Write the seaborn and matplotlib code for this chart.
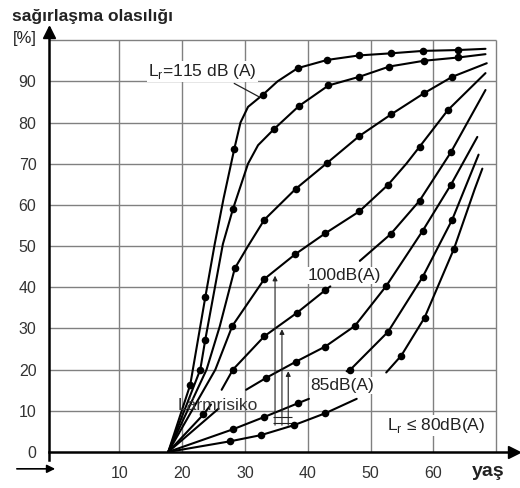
import numpy as np
import pandas as pd
import matplotlib
matplotlib.use('Agg')
import matplotlib.pyplot as plt
import seaborn as sns

sns.set_theme(style='white')
plt.rcParams['font.family'] = ['Liberation Sans', 'DejaVu Sans']
plt.rcParams['mathtext.fontset'] = 'custom'
plt.rcParams['mathtext.rm'] = 'Liberation Sans'

NaN = np.nan

# ── Curves: age, probability [%], dot (1 = marker) ──
# NaN breaks a curve where a label sits on it
c1_age = [17.8, 21.3, 23.7, 25.2, 26.6, 28.3, 29.3, 30.5, 32.9, 35.2, 38.4, 43.1, 48.2, 53.2, 58.4, 63.9, 68.3]
c1_val = [0, 16.3, 37.6, 50.5, 61.5, 73.5, 80, 83.8, 86.8, 90, 93.2, 95.2, 96.3, 96.8, 97.4, 97.6, 97.9]
c1_dot = [0, 1, 1, 0, 0, 1, 0, 0, 1, 0, 1, 1, 1, 1, 1, 1, 0]

c2_age = [17.8, 22.9, 23.7, 26.5, 28.1, 30.5, 32.1, 34.7, 38.6, 43.3, 48.2, 53.0, 58.5, 64.0, 68.3]
c2_val = [0, 20, 27.3, 50.5, 59, 70, 74.5, 78.5, 84, 89, 91.1, 93.6, 95, 95.8, 96.6]
c2_dot = [0, 1, 1, 0, 1, 0, 0, 1, 1, 1, 1, 1, 1, 1, 0]

c3_age = [17.8, 23.9, 26.0, 28.4, 30.5, 33.1, 35.5, 38.1, 43.1, 48.2, 53.3, 58.5, 63.0, 68.5]
c3_val = [0, 20, 30.5, 44.6, 50, 56.4, 60, 63.9, 70.2, 76.7, 82, 87.1, 91.1, 94.4]
c3_dot = [0, 0, 0, 1, 0, 1, 0, 1, 1, 1, 1, 1, 1, 0]

c4_age = [17.8, 25.3, 28.0, 33.1, 38.0, 42.8, 48.2, 52.8, 55.7, 57.8, 62.3, 68.3]
c4_val = [0, 20, 30.6, 42, 48, 53.1, 58.4, 64.9, 70, 74.1, 83, 92]
c4_dot = [0, 0, 1, 1, 1, 1, 1, 1, 0, 1, 1, 0]

c5_age = [17.8, 23.4, 24.6, NaN, 26.3, 28.1, 33.1, 38.3, 42.8, 43.6, NaN, 48.3, 53.2, 57.8, 62.8, 68.3]
c5_val = [0, 9.1, 11.5, NaN, 15.1, 20, 28.1, 33.8, 39.3, 40.2, NaN, 46.4, 52.9, 61, 72.8, 87.9]
c5_dot = [0, 1, 0, 0, 0, 1, 1, 1, 1, 0, 0, 0, 1, 1, 1, 0]

c6_age = [17.8, 25.8, NaN, 30.2, 33.4, 38.1, 42.8, 47.5, 52.5, 58.3, 62.8, 67.0]
c6_val = [0, 10.5, NaN, 15.1, 18, 21.9, 25.6, 30.6, 40.3, 53.7, 64.9, 76.5]
c6_dot = [0, 0, 0, 0, 1, 1, 1, 1, 1, 1, 1, 0]

c7_age = [17.8, 28.1, 33.1, 38.4, 40.2, NaN, 46.2, 46.8, 52.8, 58.3, 63.0, 67.2]
c7_val = [0, 5.5, 8.5, 11.8, 12.9, NaN, 19.6, 20, 29.2, 42.5, 56.4, 72.2]
c7_dot = [0, 1, 1, 1, 0, 0, 0, 1, 1, 1, 1, 0]

c8_age = [17.8, 27.7, 32.6, 37.8, 42.8, 47.8, NaN, 52.5, 54.9, 58.6, 63.3, 66.6, 67.8]
c8_val = [0, 2.6, 4.1, 6.5, 9.4, 12.9, NaN, 19.3, 23.4, 32.6, 49.4, 63.9, 68.8]
c8_dot = [0, 1, 1, 1, 1, 0, 0, 0, 1, 1, 1, 0, 0]

# Lärmrisiko arrows
arrow_age = [34.8, 35.9, 36.9]
arrow_top = [42.8, 29.8, 19.6]
arrow_base = 6.5

# leader line of the 115 dB label
leader_age = [28.3, 32.3]
leader_val = [89.5, 86.2]

x_ticks = [10, 20, 30, 40, 50, 60, 70]
y_ticks = [0, 10, 20, 30, 40, 50, 60, 70, 80, 90, 100]

# ── Long table ───────────────────────────────────────────────
curves = [(c1_age, c1_val, c1_dot), (c2_age, c2_val, c2_dot), (c3_age, c3_val, c3_dot),
          (c4_age, c4_val, c4_dot), (c5_age, c5_val, c5_dot), (c6_age, c6_val, c6_dot),
          (c7_age, c7_val, c7_dot), (c8_age, c8_val, c8_dot)]
rows = []
for i, (ages, vals, dots) in enumerate(curves):
    seg = 0
    for a, v, d in zip(ages, vals, dots):
        if np.isnan(v):
            seg += 1
            continue
        rows.append({'key': f'{i}-{seg}', 'age': a, 'val': v, 'dot': d})
df = pd.DataFrame(rows)

# ── Figure ───────────────────────────────────────────────────
fig = plt.figure(figsize=(5.2, 4.88), dpi=100)
ax = fig.add_axes([0.094, 0.057, 0.894, 0.886])
ax.set_xlim(-1.2, 72.8)
ax.set_ylim(-2, 103)

grid_c = '#808080'
ax.hlines(y_ticks[1:], -1.2, 70, color=grid_c, lw=1.0, zorder=0)
ax.vlines(x_ticks, 0, 100, color=grid_c, lw=1.0, zorder=0)

sns.lineplot(data=df, x='age', y='val', units='key', estimator=None, sort=False,
             color='black', linewidth=1.5, legend=False, ax=ax, zorder=2)
sns.scatterplot(data=df[df['dot'] == 1], x='age', y='val', color='black', s=30,
                linewidth=0, legend=False, ax=ax, zorder=3)

for a, t in zip(arrow_age, arrow_top):
    ax.annotate('', xy=(a, t), xytext=(a, arrow_base),
                arrowprops=dict(arrowstyle='-|>', color='#222', lw=0.8, mutation_scale=7,
                                shrinkA=0, shrinkB=0))
ax.hlines([7.0, 8.4], arrow_age[0] - 0.3, arrow_age[-1] + 0.6, color='#222', lw=0.8)
ax.plot(leader_age, leader_val, color='#222', lw=0.9)

# ── Labels on the chart ─────────────────────────────────────
txt = '#222'
box = dict(facecolor='white', edgecolor='none', pad=0.6)
ax.text(14.6, 92.4, r'L$_\mathregular{r}$=115 dB (A)', fontsize=12.5, color=txt,
        ha='left', va='center', bbox=box, zorder=4)
ax.text(45.8, 42.9, '100dB(A)', fontsize=12.5, color=txt, ha='center', va='center',
        bbox=box, zorder=4)
ax.text(45.4, 16.1, '85dB(A)', fontsize=12.5, color=txt, ha='center', va='center',
        bbox=box, zorder=4)
ax.text(25.7, 11.3, 'Lärmrisiko', fontsize=12.5, color='#333', ha='center', va='center',
        zorder=4)
ax.text(60.4, 6.5, r'L$_\mathregular{r}$ ≤ 80dB(A)', fontsize=12.5, color=txt,
        ha='center', va='center', bbox=box, zorder=4)

# ── Axes ─────────────────────────────────────────────────────
for s in ['top', 'right']:
    ax.spines[s].set_visible(False)
ax.spines['bottom'].set_position(('data', 0))
for s in ['left', 'bottom']:
    ax.spines[s].set_color('black')
    ax.spines[s].set_linewidth(1.8)
ax.set_xticks(x_ticks)
ax.set_xticklabels([str(t) for t in x_ticks[:-1]] + [''])
ax.set_yticks(y_ticks)
ax.set_yticklabels([str(t) for t in y_ticks[:-1]] + [''])
ax.tick_params(axis='x', length=4, width=1, pad=6, labelsize=11.5, color='black', labelcolor='#333')
ax.tick_params(axis='y', length=8, width=1, pad=1, labelsize=11.5, color='black', labelcolor='#333')
ax.set_xlabel('')
ax.set_ylabel('')
ax.plot(-1.2, 102, marker='^', ms=8, color='black', clip_on=False)
ax.plot(72.8, 0, marker='>', ms=8, color='black', clip_on=False)
ax.annotate('', xy=(-0.2, -4.1), xytext=(-6.3, -4.1), annotation_clip=False,
            arrowprops=dict(arrowstyle='-|>', color='black', lw=1.2, mutation_scale=12,
                            shrinkA=0, shrinkB=0))
ax.text(68.7, -4.8, 'yaş', fontsize=14, fontweight='bold', color='#222',
        ha='center', va='center', clip_on=False)

fig.text(12 / 520, 1 - 17 / 488, 'sağırlaşma olasılığı', fontsize=12.5, fontweight='bold',
         color='#222', ha='left', va='center')
fig.text(13 / 520, 1 - 38.5 / 488, '[%]', fontsize=12, color='#222', ha='left', va='center')

fig.savefig('out.png', dpi=100)
